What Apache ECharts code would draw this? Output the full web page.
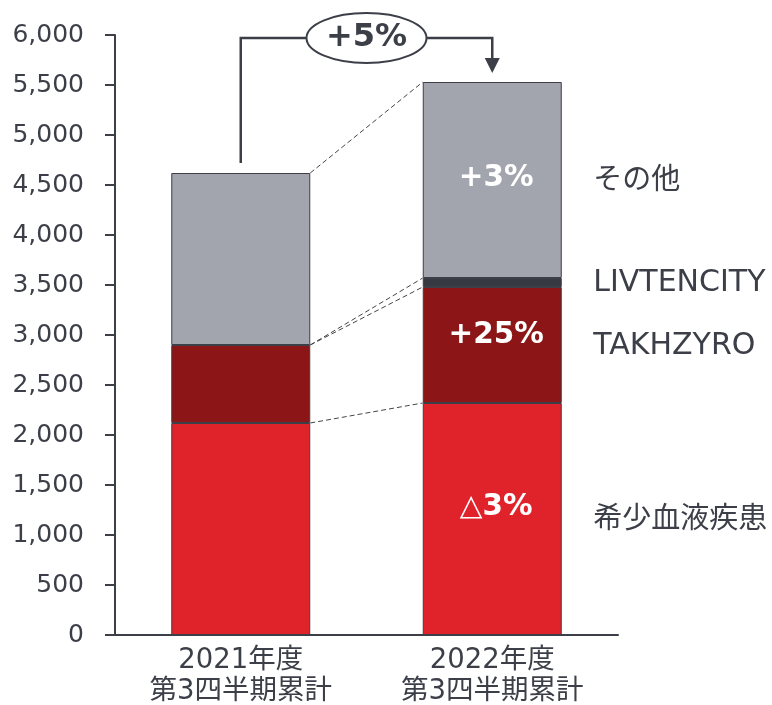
<!DOCTYPE html>
<html>
<head>
<meta charset="utf-8">
<script src="https://cdn.jsdelivr.net/npm/echarts@6/dist/echarts.min.js"></script>
<style>
  html, body { margin: 0; padding: 0; background: #fff; }
  #chart { width: 772px; height: 705px; }
</style>
</head>
<body>
<div id="chart"></div>
<script>
// data
const categories = ["2021年度\n第3四半期累計", "2022年度\n第3四半期累計"];
const rareBlood = [2120, 2320];
const takhzyro = [780, 1160];
const livtencity = ["-", 90];
const others = [1720, 1960];
const segmentNames = ["希少血液疾患", "TAKHZYRO", "LIVTENCITY", "その他"];
const growth2022 = ["△3%", "+25%", "", "+3%"];
const totalGrowth = "+5%";
const yMin = 0, yMax = 6000, yStep = 500;

const TEXT = "#3C3F48";
const FONT = "'DejaVu Sans', 'Noto Sans CJK JP', sans-serif";
const BAR_W = 139;

const num = (v) => (v === "-" ? 0 : v);
const layers = [rareBlood, takhzyro, livtencity, others];
// cumulative tops for each layer
const tops = [];
let acc = [0, 0];
layers.forEach((arr) => {
  acc = acc.map((a, i) => a + num(arr[i]));
  tops.push(acc.slice());
});
const bottoms = [[0, 0]].concat(tops.slice(0, -1));

// dashed connectors: [top 2021, top 2022]
const links = tops.map((t) => [0, t[0], t[1]]);

const colors = ["#E0222A", "#8B1517", "#363842", "#A2A5AD"];
const labelOffsets = [[4, -12], [4, -10], [0, 0], [4, -2]];

function barSeries(i) {
  return {
    name: segmentNames[i],
    type: "bar",
    stack: "total",
    barWidth: BAR_W,
    data: layers[i].map((v, j) => ({
      value: v,
      label: {
        show: j === 1 && growth2022[i] !== "",
        formatter: growth2022[i],
        position: "inside",
        offset: labelOffsets[i],
        color: "#fff",
        fontSize: 29.5,
        fontWeight: "bold",
        fontFamily: FONT,
      },
    })),
    itemStyle: { color: colors[i], borderColor: TEXT, borderWidth: 1 },
    emphasis: { disabled: true },
  };
}

const chart = echarts.init(document.getElementById("chart"));
const option = {
  animation: false,
  grid: {
    left: 115, right: 154, top: 35, bottom: 70,
    containLabel: false,
    outerBoundsMode: "none",
  },
  xAxis: {
    type: "category",
    data: categories,
    axisLine: { lineStyle: { color: TEXT, width: 2 } },
    axisTick: { show: false },
    axisLabel: {
      color: TEXT,
      fontSize: 27.5,
      fontFamily: FONT,
      lineHeight: 31,
      margin: 10,
    },
  },
  yAxis: {
    type: "value",
    min: yMin,
    max: yMax,
    interval: yStep,
    splitLine: { show: false },
    axisLine: { show: true, lineStyle: { color: TEXT, width: 2 } },
    axisTick: { show: true, length: 10, lineStyle: { color: TEXT, width: 2 } },
    axisLabel: {
      color: TEXT,
      fontSize: 25,
      fontFamily: FONT,
      margin: 31,
      formatter: (v) => v.toLocaleString("en-US"),
    },
  },
  series: [
    barSeries(0),
    barSeries(1),
    barSeries(2),
    barSeries(3),
    {
      type: "custom",
      name: "links",
      data: links,
      encode: { x: 0, y: 1 },
      silent: true,
      z: 5,
      renderItem: function (params, api) {
        const p0 = api.coord([0, api.value(1)]);
        const p1 = api.coord([1, api.value(2)]);
        return {
          type: "line",
          shape: { x1: p0[0] + BAR_W / 2, y1: p0[1], x2: p1[0] - BAR_W / 2, y2: p1[1] },
          style: { stroke: "#444", lineWidth: 1, lineDash: [5, 3] },
        };
      },
    },
  ],
};
chart.setOption(option);

// annotations placed through the chart's own coordinate system
const px = (i, v) => chart.convertToPixel({ gridIndex: 0 }, [i, v]);
const t0 = px(0, tops[3][0]);
const t1 = px(1, tops[3][1]);
const yh = px(0, yMax)[1] + 3;
const midX = (t0[0] + t1[0]) / 2;
const rx = 60, ry = 25;

const graphics = [
  {
    type: "polyline",
    shape: { points: [[t0[0], t0[1] - 10], [t0[0], yh], [midX - rx, yh]] },
    style: { stroke: TEXT, lineWidth: 2.5, fill: null },
  },
  {
    type: "polyline",
    shape: { points: [[midX + rx, yh], [t1[0], yh], [t1[0], t1[1] - 22]] },
    style: { stroke: TEXT, lineWidth: 2.5, fill: null },
  },
  {
    type: "polygon",
    shape: { points: [[t1[0] - 7.5, t1[1] - 24], [t1[0] + 7.5, t1[1] - 24], [t1[0], t1[1] - 9]] },
    style: { fill: TEXT },
  },
  {
    type: "ellipse",
    shape: { cx: midX, cy: yh, rx: rx, ry: ry },
    style: { fill: "#fff", stroke: TEXT, lineWidth: 2 },
  },
  {
    type: "text",
    x: midX,
    y: yh,
    style: {
      text: totalGrowth,
      fill: TEXT,
      font: "bold 32px " + FONT,
      align: "center",
      verticalAlign: "middle",
    },
  },
];

// segment names to the right of the 2022 bar
segmentNames.forEach((name, i) => {
  const mid = (bottoms[i][1] + tops[i][1]) / 2;
  const p = px(1, mid);
  graphics.push({
    type: "text",
    x: p[0] + 101,
    y: p[1] + 1,
    style: {
      text: name,
      fill: TEXT,
      font: (/^[A-Z]/.test(name) ? "30px " : "29px ") + FONT,
      align: "left",
      verticalAlign: "middle",
    },
  });
});

chart.setOption({ graphic: graphics });
</script>
</body>
</html>
